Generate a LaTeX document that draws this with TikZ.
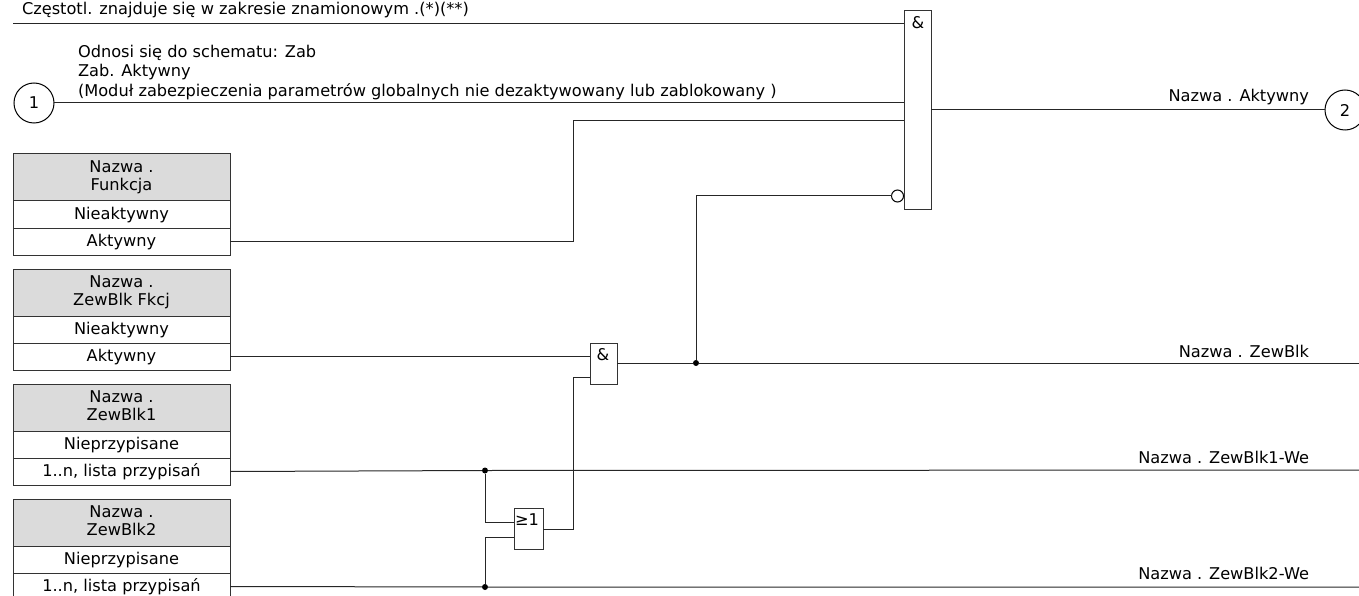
\documentclass[tikz,border=0pt]{standalone}
\usepackage{fontspec}
\setmainfont{DejaVu Sans}
\usetikzlibrary{positioning}

\begin{document}
\begin{tikzpicture}[
    x=1pt, y=-1pt,
    every node/.style={font=\fontsize{16.2}{18}\selectfont, inner sep=0pt, outer sep=0pt},
    wire/.style={draw=black!85, line width=1pt},
    head/.style={rectangle, draw=black!80, line width=1pt, fill=black!14, minimum width=217pt, minimum height=47pt, align=center, text depth=3pt},
    row/.style={rectangle, draw=black!80, line width=1pt, fill=white, minimum width=217pt, minimum height=27pt, text height=12.5pt, text depth=2.5pt, below=0pt of #1},
    gate/.style={rectangle, draw=black!80, line width=1pt, fill=white, minimum width=#1},
    conn/.style={circle, draw=black, line width=1pt, minimum size=40pt},
    dot/.style={circle, fill=black, minimum size=6pt},
    neg/.style={circle, draw=black, line width=1pt, fill=white, minimum size=12pt},
    sig/.style={anchor=base east}
]
    \useasboundingbox (0,0) rectangle (1359,596);

    % gates
    \node[gate=27pt, minimum height=198pt] (andmain) at (917.5,110) {};
    \node (andmainsym) at (918,23) {\&};
    \node[gate=27pt, minimum height=41pt] (andblk) at (603.5,363.5) {};
    \node (andblksym) at (603,355) {\&};
    \node[gate=29pt, minimum height=41pt] (orblk) at (528.5,528.5) {};
    \node (orblksym) at (527,520) {≥1};

    % connectors 1 and 2
    \node[conn] (cin) at (34,103) {1};
    \node[conn] (cout) at (1345,110) {2};

    % settings
    \node[head] (fkt) at (121.5,177.5) {Nazwa .\\Funkcja};
    \node[row=fkt] (fktoff) {Nieaktywny};
    \node[row=fktoff] (fkton) {Aktywny};

    \node[head] (ext) at (121.5,292.5) {Nazwa .\\ZewBlk Fkcj};
    \node[row=ext] (extoff) {Nieaktywny};
    \node[row=extoff] (exton) {Aktywny};

    \node[head] (blka) at (121.5,407.5) {Nazwa .\\ZewBlk1};
    \node[row=blka] (blkaoff) {Nieprzypisane};
    \node[row=blkaoff] (blkaon) {1..n, lista przypisań};

    \node[head] (blkb) at (121.5,522.5) {Nazwa .\\ZewBlk2};
    \node[row=blkb] (blkboff) {Nieprzypisane};
    \node[row=blkboff] (blkbon) {1..n, lista przypisań};

    % free ends and junctions
    \coordinate (freqin) at (13,24);
    \coordinate (extout) at (1359,363);
    \coordinate (blkaout) at (1359,470);
    \coordinate (blkbout) at (1359,587);
    \node[dot] (jext) at (696,363) {};
    \node[dot] (jblka) at (485,470.5) {};
    \node[dot] (jblkb) at (485,587) {};
    \node[neg] (negmain) at (897.5,196) {};

    % wires
    \draw[wire] (freqin) -- (freqin -| andmain.west);
    \draw[wire] (cin.east |- 0,102.5) -- (andmain.west |- 0,102.5);
    \draw[wire] (fkton.east) -- (573,241.5) -- (573,121) -- (andmain.west |- 0,121);
    \draw[wire] (negmain.west) -- (jext |- negmain) -- (jext);
    \draw[wire] (andmain.east |- cout) -- (cout.west);
    \draw[wire] (exton.east) -- (andblk.west |- exton);
    \draw[wire] (andblk.east |- jext) -- (jext) -- (extout);
    \draw[wire] (blkaon.east) -- (jblka) -- (blkaout);
    \draw[wire] (blkbon.east) -- (jblkb) -- (blkbout);
    \draw[wire] (jblka) -- (485,522) -- (orblk.west |- 0,522);
    \draw[wire] (jblkb) -- (485,537) -- (orblk.west |- 0,537);
    \draw[wire] (orblk.east |- 0,529) -- (573,529) -- (573,377) -- (andblk.west |- 0,377);

    % labels
    \node[anchor=base west] (freqlbl) at (22,15) {Częstotl. znajduje się w zakresie znamionowym .(*)(**)};
    \node[anchor=base west, align=left] (prot1) at (78,58) {Odnosi się do schematu: Zab};
    \node[anchor=base west] (prot2) at (78,77) {Zab. Aktywny};
    \node[anchor=base west] (prot3) at (78,97) {(Moduł zabezpieczenia parametrów globalnych nie dezaktywowany lub zablokowany )};
    \node[sig] (activelbl) at (1309,102) {Nazwa . Aktywny};
    \node[sig] (extlbl) at (1309,357) {Nazwa . ZewBlk};
    \node[sig] (blkalbl) at (1309,463) {Nazwa . ZewBlk1-We};
    \node[sig] (blkblbl) at (1309,579) {Nazwa . ZewBlk2-We};
\end{tikzpicture}
\end{document}
